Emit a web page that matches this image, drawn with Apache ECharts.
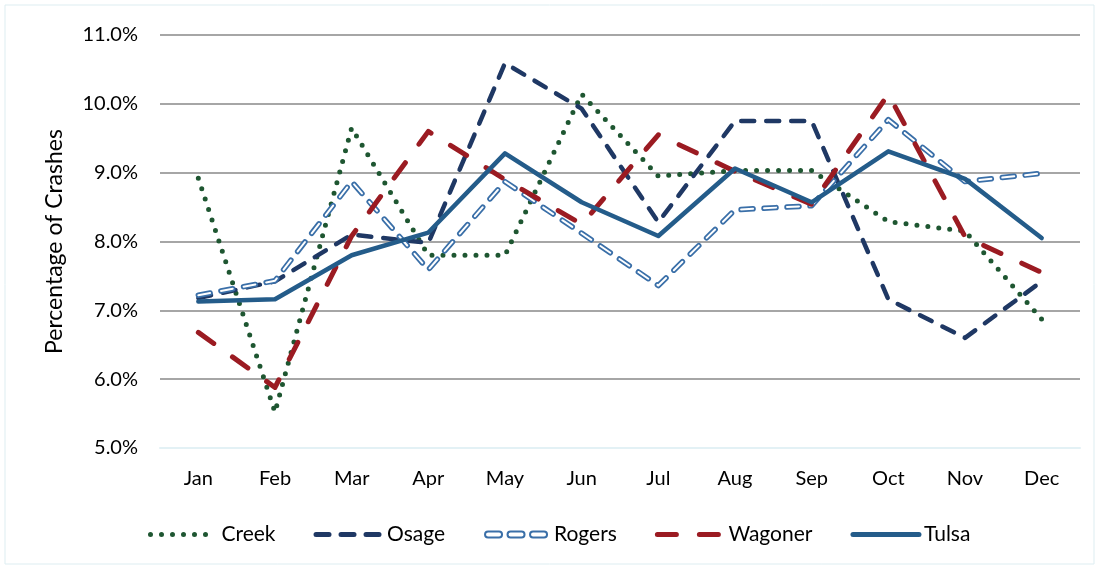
<!doctype html>
<html>
    <head>
        <meta charset="utf-8">
        <title>Percentage of Crashes by Month</title>
        <style>
            html, body { margin: 0; padding: 0; background: #fff; }
            #main { width: 1099px; height: 569px; }
        </style>
    </head>
    <body>
        <div id="main"></div>
        <script src="https://cdn.jsdelivr.net/npm/echarts@6/dist/echarts.min.js"></script>
        <script>
            var months = ['Jan', 'Feb', 'Mar', 'Apr', 'May', 'Jun', 'Jul', 'Aug', 'Sep', 'Oct', 'Nov', 'Dec'];
            var yTicks = [5, 11, 1]; // min, max, step

            var creek   = [8.92, 5.52, 9.65, 7.80, 7.80, 10.14, 8.95, 9.03, 9.03, 8.29, 8.15, 6.87];
            var osage   = [7.18, 7.42, 8.10, 7.98, 10.59, 9.93, 8.28, 9.75, 9.75, 7.16, 6.60, 7.42];
            var rogers  = [7.22, 7.43, 8.87, 7.59, 8.87, 8.12, 7.36, 8.46, 8.52, 9.77, 8.87, 8.99];
            var wagoner = [6.68, 5.88, 8.08, 9.60, 8.90, 8.25, 9.55, 9.02, 8.54, 10.14, 8.07, 7.55];
            var tulsa   = [7.13, 7.16, 7.80, 8.13, 9.28, 8.57, 8.08, 9.06, 8.57, 9.31, 8.91, 8.05];

            var font = 'Lato, "Open Sans", sans-serif';

            // hollow dashes for the Rogers legend key
            var rogersIcon = 'image://data:image/svg+xml;charset=utf-8,' + encodeURIComponent(
                '<svg xmlns="http://www.w3.org/2000/svg" width="66" height="12">' +
                '<g fill="#fff" stroke="#3a6fa8" stroke-width="2">' +
                '<rect x="2" y="3" width="17" height="6" rx="3"/>' +
                '<rect x="24.5" y="3" width="17" height="6" rx="3"/>' +
                '<rect x="47" y="3" width="17" height="6" rx="3"/>' +
                '</g></svg>');

            var chart = echarts.init(document.getElementById('main'), null, {
                devicePixelRatio: 1
            });

            function lineSeries(name, data, color, width, dash, z) {
                return {
                    name: name,
                    type: 'line',
                    data: data,
                    symbol: 'none',
                    showSymbol: false,
                    silent: true,
                    animation: false,
                    z: z,
                    itemStyle: { color: color },
                    lineStyle: {
                        color: color,
                        width: width,
                        type: dash,
                        cap: 'round',
                        join: 'round'
                    }
                };
            }

            chart.setOption({
                animation: false,
                graphic: [{
                    type: 'rect',
                    shape: { x: 5, y: 5, width: 1089, height: 559 },
                    style: { fill: 'none', stroke: '#ddedf1', lineWidth: 1 },
                    silent: true
                }],
                grid: {
                    left: 160,
                    right: 19,
                    top: 35,
                    bottom: 121
                },
                legend: {
                    data: ['Creek', 'Osage', {
                        name: 'Rogers',
                        icon: rogersIcon,
                        itemStyle: { opacity: 1 },
                        lineStyle: { opacity: 0 }
                    }, 'Wagoner', 'Tulsa'],
                    top: 519,
                    left: 143,
                    itemWidth: 66,
                    itemHeight: 12,
                    itemGap: 38,
                    itemStyle: { opacity: 0 },
                    lineStyle: { width: 5 },
                    textStyle: {
                        fontFamily: font,
                        fontSize: 21,
                        color: '#000'
                    }
                },
                xAxis: {
                    type: 'category',
                    data: months,
                    boundaryGap: true,
                    axisLine: { show: true, lineStyle: { color: '#e3f1f5', width: 2 } },
                    axisTick: { show: false },
                    axisLabel: {
                        margin: 21,
                        fontFamily: font,
                        fontSize: 20,
                        color: '#000'
                    }
                },
                yAxis: {
                    type: 'value',
                    min: yTicks[0],
                    max: yTicks[1],
                    interval: yTicks[2],
                    name: 'Percentage of Crashes',
                    nameLocation: 'middle',
                    nameGap: 94,
                    nameTextStyle: {
                        fontFamily: font,
                        fontSize: 23,
                        color: '#000'
                    },
                    axisLine: { show: false },
                    axisTick: { show: false },
                    axisLabel: {
                        margin: 22,
                        fontFamily: font,
                        fontSize: 20,
                        color: '#000',
                        formatter: function (v) { return v.toFixed(1) + '%'; }
                    },
                    splitLine: {
                        lineStyle: { color: '#a6a6a6', width: 2 }
                    }
                },
                series: [
                    lineSeries('Creek', creek, '#1e5631', 5, [0, 11], 2),
                    lineSeries('Osage', osage, '#1f3864', 4.5, [13, 12], 3),
                    lineSeries('Rogers', rogers, '#3a6fa8', 5.5, [12, 11], 4),
                    lineSeries('Rogers inner', rogers, '#ffffff', 2, [12, 11], 5),
                    lineSeries('Wagoner', wagoner, '#9b1b22', 5, [19, 23], 6),
                    lineSeries('Tulsa', tulsa, '#245c8a', 4.5, 'solid', 7)
                ]
            });

            window.onresize = chart.resize;
        </script>
    </body>
</html>
